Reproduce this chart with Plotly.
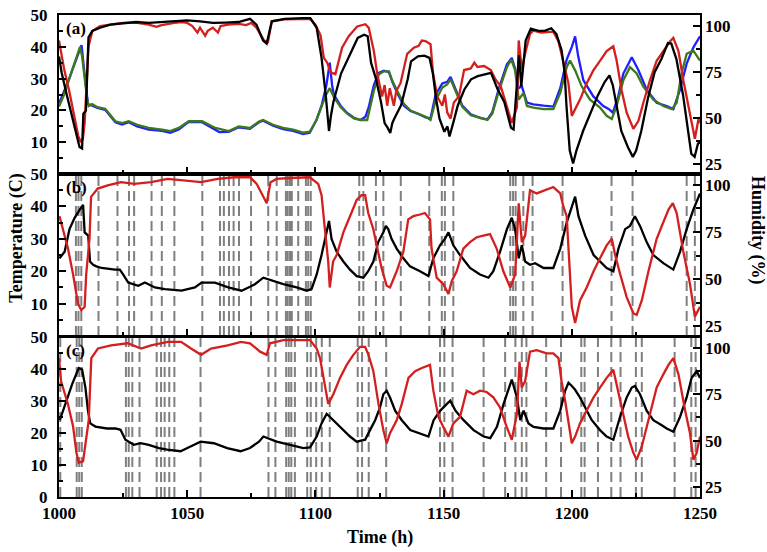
import plotly.graph_objects as go

# ---------------- data (time h, value) ----------------
# Panel (a): humidity series (right axis, %) and temperature series (left axis, C)
a_black_hum = [(1000, 83.4), (1001, 74.8), (1003, 62.8), (1006, 45.5), (1008, 34.3), (1009, 33.5), (1009.5, 52.4),
               (1010.5, 54.1), (1011, 71.4), (1011.5, 93.7), (1013, 97.2), (1016, 98.9), (1020, 100.6), (1025, 101.5),
               (1030, 102), (1035, 101.5), (1040, 102), (1045, 102.7), (1050, 102.9), (1055, 102.4), (1060, 101.5),
               (1065, 101.7), (1070, 102), (1074.5, 103.7), (1077, 100.6), (1079.6, 92), (1081, 90.3), (1083, 102.4),
               (1088, 103.7), (1095, 104.1), (1098, 104.1), (1100.5, 98.9), (1102.4, 82.6), (1104, 62.8), (1105.3, 43),
               (1106, 50.7), (1107, 58.6), (1110, 74.1), (1114, 86.3), (1116.5, 93.4), (1119, 95.1), (1120.4, 94.3),
               (1121.7, 80), (1123.6, 71.4), (1125.6, 58.6), (1127, 47.3), (1128.2, 44.7), (1129.2, 41.9), (1130, 47.3),
               (1130.8, 49.8), (1133.4, 56.9), (1136, 71), (1137.3, 80.7), (1140, 83.4), (1142.5, 83.8), (1144.5, 82.6),
               (1145.8, 74.3), (1147.1, 60.2), (1148.4, 49.7), (1150.3, 42.6), (1151.5, 45.5), (1152.3, 40),
               (1154.2, 49.7), (1155.5, 56.7), (1158.1, 65.5), (1160.7, 71), (1163.3, 72.7), (1165.9, 73.6),
               (1168.5, 74.5), (1171.1, 65.5), (1173.7, 58.6), (1176.3, 44.7), (1177.3, 43.8), (1179.4, 84),
               (1180.3, 67.2), (1182, 92), (1184, 98.4), (1187, 97.2), (1189.4, 97.2), (1192, 98.6), (1194, 95.5),
               (1196, 86.9), (1197.2, 74.8), (1197.9, 57.1), (1199.2, 32.4), (1200.5, 25.4), (1201.8, 32.4),
               (1204.4, 43), (1207.6, 53.6), (1210.2, 62.4), (1212.8, 69.5), (1214.7, 73.1), (1216, 67.7),
               (1217.3, 57.1), (1219.3, 43), (1221.9, 34.2), (1223.8, 29), (1225.1, 32.4), (1227.1, 43),
               (1229.7, 60.7), (1232.3, 74.8), (1234.9, 81.9), (1237.5, 90.6), (1238.8, 90.3), (1240.8, 81.9),
               (1243.4, 62.4), (1245.3, 44.8), (1246.6, 30.7), (1247.9, 29), (1249.2, 36.1), (1250, 36.9)]

a_red_hum = [(1000, 92), (1002, 76.5), (1004, 64.5), (1006, 50.7), (1007.5, 40.4), (1008.5, 36.9), (1009.3, 38.6),
             (1010, 47.3), (1010.5, 62.8), (1011.5, 88.6), (1013, 97.2), (1016, 99.8), (1020, 100.6), (1025, 101.5),
             (1030, 101.7), (1035, 100.6), (1038, 99.4), (1040, 100.3), (1045, 101.5), (1048, 102), (1050, 101.5),
             (1052, 99.8), (1054, 96.3), (1055, 98.9), (1057, 94.6), (1058, 97.2), (1060, 98.9), (1062, 96.3),
             (1063, 99.8), (1066, 100.6), (1070, 101), (1073, 100.3), (1075, 101.5), (1077, 98.9), (1078.5, 95.5),
             (1080, 92), (1081.5, 91.2), (1083, 102.4), (1088, 103.4), (1095, 103.7), (1098, 103.7), (1100, 100.6),
             (1102, 94.8), (1103.3, 82.6), (1104.6, 80), (1105.9, 74.8), (1107.8, 73.8), (1110.4, 88.1),
             (1113, 94.3), (1116.3, 99.6), (1119.5, 100.8), (1120.8, 98.9), (1122.8, 86.3), (1124.1, 74.1),
             (1126, 61.7), (1127, 67.9), (1128, 56.7), (1129, 66.2), (1130.6, 56.7), (1131.5, 64.5), (1133.2, 68.9),
             (1135.8, 84.8), (1138.4, 88.1), (1140.3, 89.1), (1141.5, 92), (1142.9, 91.7), (1144.9, 90),
             (1145.9, 74.1), (1147.5, 61.7), (1149.5, 56.7), (1150.5, 62.8), (1151.4, 53.1), (1152.7, 49.7),
             (1154, 58.4), (1156, 61.9), (1158, 76), (1160.6, 76.9), (1162, 80), (1163.2, 77.7), (1165.8, 78.2),
             (1168.4, 76), (1170.3, 70.8), (1172.3, 67.2), (1174.7, 56.2), (1176.6, 47.4), (1178.6, 55.9),
             (1179.3, 92), (1180.5, 76.2), (1181.8, 85), (1183.7, 95.5), (1185, 97.4), (1188, 96.3), (1192.8, 96.8),
             (1194.8, 91.5), (1196.7, 81), (1198.7, 68.8), (1200, 51.2), (1201.3, 54.7), (1203.2, 60),
             (1205.8, 68.8), (1208.4, 75.8), (1211, 81), (1213.6, 86.3), (1216.2, 88.9), (1217.5, 81),
             (1219.4, 65.2), (1221.4, 52.9), (1224, 44.2), (1226, 48.5), (1227.9, 58.3), (1230.5, 70.5),
             (1233.1, 81), (1235.7, 86.3), (1238.3, 91.5), (1239.6, 93.4), (1241.6, 86.3), (1243.5, 70.5),
             (1246.1, 52.9), (1248, 38.8), (1249.4, 49.5), (1250, 47.3)]

a_green_temp = [(1000, 21.2), (1002, 25), (1004, 30), (1006, 35), (1008.2, 40), (1009, 37), (1009.7, 31.6),
                (1011, 23.4), (1011.6, 21.4), (1012.9, 22), (1015, 21), (1018, 20.5), (1020, 18.6), (1022, 16.6),
                (1024.6, 16), (1027.2, 16.6), (1030.5, 15.5), (1035, 14.5), (1040.2, 14), (1043.4, 13.5),
                (1046.7, 14.5), (1050.6, 16.6), (1055.8, 16.6), (1061, 14.5), (1066.2, 13.5), (1070.1, 15),
                (1074.5, 14.5), (1078, 16.5), (1079.6, 17), (1083.5, 15.5), (1087.4, 14.5), (1091.3, 14),
                (1095.2, 13), (1097.8, 13.3), (1100.4, 17), (1102.4, 21.1), (1104.3, 25.2), (1105.6, 27),
                (1107.2, 24.2), (1109.8, 21.1), (1112.4, 19), (1115, 17.5), (1117.6, 17), (1120.2, 17),
                (1122.8, 26.2), (1124.7, 31.3), (1126.7, 32.3), (1128.7, 32.3), (1130, 29.3), (1131.9, 26.2),
                (1134.5, 22.1), (1137.1, 20), (1140.4, 19), (1143, 18), (1144.9, 17), (1146.9, 23.1),
                (1149.5, 27.2), (1151.4, 28.2), (1152.7, 29.8), (1154.7, 26.2), (1157.3, 21.1), (1160.6, 18.5),
                (1164.5, 17.5), (1167.1, 17), (1169, 19), (1171.6, 26.2), (1174.7, 33.6), (1176.4, 36),
                (1177.9, 32.6), (1179.3, 23.4), (1181.2, 25.5), (1182.5, 21.4), (1185, 20.9), (1189, 20.4),
                (1192.8, 20.4), (1195.5, 25.5), (1198, 33.6), (1199.3, 35.7), (1201.3, 32.6), (1203.9, 27.5),
                (1207.1, 23.4), (1211, 20.9), (1213.6, 18.3), (1215.6, 17.3), (1217.5, 21.4), (1220.1, 29.5),
                (1222.7, 33.6), (1225.3, 31.6), (1227.9, 27.5), (1231.8, 23.4), (1235.7, 21.4), (1239, 20.4),
                (1240.9, 22.4), (1242.8, 31.6), (1244.8, 37.8), (1247.4, 38.8), (1250, 35.7)]

a_blue_temp = [(1000, 22.2), (1002, 26), (1004, 30), (1006, 34.5), (1008.8, 40.5), (1009.5, 35), (1010.3, 29),
               (1011.3, 22), (1013, 21.5), (1015, 20.8), (1018, 20.2), (1020, 18.3), (1022, 16.3), (1024.6, 15.6),
               (1027.2, 16.3), (1030.5, 15), (1035, 14), (1040.2, 13.6), (1043.4, 13), (1046.7, 14),
               (1050.6, 16.4), (1055.8, 16.3), (1061, 14), (1062.5, 13.2), (1066.2, 13.3), (1070.1, 14.7),
               (1074.5, 14.2), (1078, 16.3), (1079.6, 16.8), (1083.5, 15.2), (1087.4, 14.1), (1091.3, 13.6),
               (1095.2, 12.6), (1097.8, 13), (1100.4, 17), (1102.4, 21.5), (1104.3, 28), (1105.6, 35),
               (1106.5, 28), (1107.2, 25), (1109.8, 21.5), (1112.4, 19.2), (1115, 17.7), (1117.6, 17),
               (1119.5, 18), (1120.8, 21), (1122.8, 28), (1124.7, 31.8), (1126.7, 32.5), (1128.7, 32),
               (1130, 29), (1131.9, 25.5), (1134.5, 21.5), (1137.1, 19.8), (1140.4, 18.8), (1143, 17.8),
               (1144.9, 17.5), (1146.9, 25), (1149.5, 28.5), (1151.4, 29), (1152.7, 30.5), (1154.7, 26.8),
               (1157.3, 21.5), (1160.6, 18.8), (1164.5, 17.6), (1167.1, 17.2), (1169, 19.5), (1171.6, 27),
               (1174.7, 34.5), (1176.6, 36.5), (1177.9, 33), (1179.3, 27), (1180.5, 27.6), (1182.5, 22.5),
               (1185, 21.9), (1189, 21.5), (1192.8, 21.2), (1195.5, 27), (1198, 36), (1200, 40), (1201.3, 43.3),
               (1202.5, 37), (1204.5, 29.5), (1208.4, 24.4), (1212.3, 21.4), (1214.5, 20.4), (1216, 19.3),
               (1218, 24), (1220.1, 31.6), (1223.4, 36.7), (1226, 32.6), (1229.2, 26.5), (1233.1, 22.4),
               (1237, 21.4), (1239.6, 20.4), (1242.2, 26.5), (1244.8, 34.7), (1247.4, 39.8), (1250, 43.3)]

# Panel (b)
b_temp = [(1000.2, 24), (1002.2, 26), (1004.1, 33), (1006.1, 36.5), (1008.1, 39), (1009.4, 40.5), (1010, 32),
          (1011.4, 31), (1012.1, 23), (1013.3, 22), (1014.6, 21.5), (1016.6, 21), (1021.8, 20.5), (1023.7, 20.5),
          (1025, 19), (1027, 16.5), (1030.9, 15.5), (1033.5, 16.5), (1037.4, 15), (1041.3, 14.5), (1047.8, 14),
          (1053, 15), (1055.6, 16.5), (1060.8, 16.5), (1066, 15), (1071.2, 14), (1074.5, 15.2), (1076.4, 16),
          (1079.7, 18), (1083.6, 17), (1087.5, 16), (1092.7, 15), (1096.6, 14), (1098.5, 14.5), (1100.5, 19),
          (1102.4, 25), (1103.7, 30), (1105.3, 35.5), (1106.3, 30), (1108.3, 26), (1110.9, 23), (1113.5, 20.5),
          (1116.1, 18.5), (1118.7, 18), (1120.6, 20), (1122.6, 23), (1124.5, 29), (1126.5, 32), (1127.5, 34),
          (1128.4, 33), (1129.7, 30), (1131.7, 27), (1134.3, 24), (1136.9, 21.5), (1140.8, 20), (1144.1, 18.5),
          (1146, 24), (1148.6, 28), (1150.5, 30), (1151.9, 32), (1153.8, 28), (1156.4, 25), (1160.3, 21),
          (1164.2, 19), (1167.5, 18), (1169.4, 20), (1172, 26), (1174.7, 33), (1176.6, 36.5), (1177.9, 33),
          (1179.3, 24), (1180.5, 28), (1181.8, 23), (1183.7, 22), (1185.7, 22.5), (1189, 21), (1192.8, 21),
          (1195.5, 27), (1198, 35), (1200, 40), (1201.3, 43), (1202.6, 37), (1205.2, 31), (1208.5, 25),
          (1211, 23), (1213.6, 21), (1216.2, 20), (1218.2, 27), (1220.8, 33), (1222.7, 34), (1224.6, 37),
          (1226.6, 34), (1229.2, 29), (1231.8, 25), (1235.7, 22.5), (1239.6, 20.5), (1242.2, 26),
          (1244.8, 33), (1247.4, 39), (1250, 44)]

b_hum = [(1000.2, 83.4), (1001.5, 76.5), (1003.5, 66.2), (1005.5, 52.4), (1007.4, 36.9), (1008.7, 33.5),
         (1010, 35.2), (1010.6, 52.4), (1011.9, 71.4), (1012.5, 93.7), (1015.1, 98.1), (1019, 99.8),
         (1024.2, 101.5), (1029.4, 100.6), (1035.9, 101.5), (1042.4, 103.2), (1048.9, 102.4), (1055.4, 101.5),
         (1061.9, 103.2), (1068.4, 104.1), (1074.5, 104.1), (1077.1, 100.6), (1079.7, 93.7), (1081, 90.3),
         (1082.5, 101.5), (1084.9, 103.2), (1090.1, 103.7), (1097.8, 104.1), (1101.1, 100.6), (1102.4, 94.6),
         (1103.7, 76.5), (1105, 59.3), (1105.6, 45.5), (1106.9, 59.3), (1108.3, 62.8), (1110.9, 74.8),
         (1113.5, 83.4), (1116.1, 92), (1118, 94.6), (1119.4, 94.6), (1120.6, 85.1), (1122.6, 76.5),
         (1123.9, 67.9), (1125.8, 55.9), (1127.8, 46.4), (1129.1, 45.5), (1131.7, 54.1), (1134.3, 64.5),
         (1136.2, 81.7), (1138.2, 83.4), (1140.8, 84.3), (1142.7, 85.1), (1144.7, 81.7), (1145.3, 66.2),
         (1147.3, 50.7), (1149.9, 47.3), (1151.9, 42.1), (1153.2, 49), (1155.1, 54.1), (1157.7, 66.2),
         (1160.3, 69.6), (1162.9, 72.2), (1165.5, 73.1), (1168.1, 73.9), (1170.7, 66.2), (1173.3, 54.1),
         (1176, 45.5), (1177.9, 52.4), (1179.3, 90.3), (1180.5, 69.6), (1181.8, 73.1), (1183.7, 97.2),
         (1186.3, 95.5), (1189.6, 97.2), (1192.8, 98.9), (1195.5, 95.5), (1196.7, 88.6), (1198, 83.4),
         (1199.1, 59.3), (1200, 35.2), (1201.3, 26.6), (1203.2, 38.6), (1205.8, 45.5), (1208.5, 54.1),
         (1211, 61), (1213.6, 67.9), (1215.6, 71.4), (1216.9, 62.8), (1218.9, 52.4), (1221.4, 40.4),
         (1224, 31.8), (1225.3, 30.9), (1227.3, 38.6), (1229.9, 54.1), (1233.1, 71.4), (1235.7, 80),
         (1237.7, 86.9), (1239.4, 90.3), (1240.9, 85.1), (1243.5, 64.5), (1246.1, 47.3), (1248, 30),
         (1249.4, 34.3), (1250, 35.2)]

# Panel (c)
c_temp = [(1000.3, 24), (1002.5, 29), (1005.1, 35.2), (1007.7, 40.3), (1009, 39.8), (1010.3, 34.2), (1011.3, 27),
          (1012.2, 23), (1014.2, 22), (1018.7, 21.4), (1022, 21.4), (1024, 21), (1025.9, 17.9), (1029.2, 16.3),
          (1031.8, 16.8), (1035, 16.3), (1039, 15.3), (1042.2, 14.8), (1047.4, 14.3), (1051.3, 15.8),
          (1055.2, 17.3), (1060.4, 16.8), (1065.6, 15.3), (1070.8, 14.3), (1074.5, 15.3), (1078, 17.3),
          (1079.7, 18.9), (1084.9, 17.3), (1090.1, 16.3), (1095.3, 15.3), (1097.9, 15.5), (1100.5, 18.9),
          (1102.4, 23), (1104.4, 26), (1105.7, 25), (1108.3, 23), (1110.9, 20.9), (1113.5, 18.9),
          (1116.1, 17.3), (1119.4, 17.9), (1121.3, 20.9), (1123.3, 24), (1125.2, 28), (1126.5, 32.1),
          (1127.8, 33.2), (1129.1, 31.1), (1131.1, 27), (1133.7, 24), (1137, 20.9), (1140.9, 19.9),
          (1144.1, 18.9), (1146.1, 24), (1148.7, 27), (1151.3, 29.1), (1152.6, 30.1), (1154.6, 27),
          (1157.8, 24), (1161.7, 20.9), (1165.6, 18.9), (1168.2, 18.4), (1170.8, 21.9), (1173.4, 29.1),
          (1175.4, 34.2), (1176.6, 36.7), (1178.6, 31.1), (1179.9, 24), (1181.2, 27), (1183.1, 23),
          (1185.1, 21.9), (1189, 21.4), (1192.8, 21.4), (1195.5, 27), (1197.4, 33.2), (1198.7, 35.7),
          (1200, 34.7), (1201.3, 33.5), (1203.2, 31.1), (1205.2, 28), (1207.8, 24), (1211, 20.9),
          (1213.6, 18.9), (1216.2, 17.9), (1218.8, 25), (1221.4, 31.1), (1223.4, 34.2), (1224.6, 34.7),
          (1226.6, 32.1), (1229.2, 27), (1231.8, 24), (1235.1, 22.4), (1237, 21.4), (1239.6, 20.4),
          (1242.2, 25), (1244.8, 31.1), (1246.7, 37.2), (1248.7, 39.3), (1250, 37.2)]

c_hum = [(1000, 94.4), (1000.8, 82), (1003.5, 69.6), (1005.5, 57.6), (1006.8, 43.5), (1007.7, 38.1), (1009.4, 39),
         (1010.7, 50.5), (1011.6, 61), (1012.6, 94.4), (1015.2, 99.6), (1020.3, 101.3), (1026.8, 102.4),
         (1032, 99.6), (1035.9, 101.3), (1042.4, 103.2), (1047.6, 103.2), (1051.5, 99.6), (1055.4, 96.2),
         (1059.3, 99.6), (1065.8, 101.3), (1071, 103.2), (1074.5, 102.4), (1078.4, 97.9), (1081, 96.2),
         (1082.3, 102.4), (1087.5, 104.1), (1097.9, 104.1), (1100.5, 99.6), (1101.8, 94.4), (1103.7, 78.6),
         (1105, 69.8), (1107, 75), (1109.6, 83.8), (1112.2, 90.8), (1114.8, 96.2), (1117.4, 100.5),
         (1119.4, 100.5), (1120.7, 96.2), (1122.6, 87.4), (1124.6, 69.8), (1126.5, 55.7), (1127.8, 48.6),
         (1129.1, 54), (1131.7, 61), (1133.7, 69.8), (1136.3, 83.8), (1138.9, 87.4), (1141.5, 89.1),
         (1144.7, 90.8), (1146, 76.9), (1148, 62.8), (1149.9, 57.4), (1151.9, 52.2), (1153.8, 59.3),
         (1156.4, 62.8), (1159, 76.9), (1161.6, 75), (1164.2, 76.9), (1166.8, 76.2), (1169.4, 73.3),
         (1172, 67.9), (1174.6, 57.4), (1176.6, 50.5), (1178.6, 64.5), (1179.6, 92.5), (1180.5, 78.6),
         (1181.8, 82), (1183.7, 97.9), (1186.3, 98.7), (1190.2, 97), (1192.8, 97), (1194.8, 94.4), (1196, 82),
         (1197.4, 71.5), (1198.7, 59.3), (1200, 48.6), (1201.3, 52.2), (1203.2, 59.3), (1205.8, 66.2),
         (1208.5, 73.3), (1211, 78.6), (1213.6, 83.8), (1216.2, 88.2), (1217.5, 80.3), (1219.4, 67.9),
         (1222, 52.2), (1224, 43.5), (1225.3, 39.8), (1227.3, 46.9), (1229.9, 61), (1233.1, 78.6),
         (1235.7, 85.7), (1237.7, 90.8), (1239.6, 94.4), (1241.6, 85.7), (1244.2, 66.2), (1246.1, 54),
         (1247.4, 39.8), (1248.7, 43.5), (1250, 52.2)]

# event times (dashed markers)
b_events = [1006.6, 1007.6, 1008.7, 1015.4, 1022.8, 1027.3, 1029.3, 1036.1, 1040.1, 1045.0, 1055.9, 1062.8,
            1064.3, 1066.3, 1068.1, 1070.2, 1074.9, 1081.6, 1084.9, 1088.5, 1089.2, 1090.1, 1090.8, 1093.3,
            1096.3, 1097.2, 1098.2, 1117.1, 1118.7, 1123.6, 1126.5, 1133.3, 1144.4, 1149.3, 1150.5, 1153.8,
            1176.0, 1177.1, 1178.1, 1181.1, 1184.7, 1196.4, 1215.5, 1223.7, 1244.8, 1248.0]
c_events = [1000.5, 1006.9, 1007.9, 1008.9, 1026.1, 1027.2, 1028.6, 1031.4, 1038.1, 1039.8, 1041.2, 1043.0,
            1045.0, 1055.2, 1081.7, 1084.4, 1088.6, 1089.6, 1090.6, 1092.0, 1096.8, 1098.2, 1100.3, 1102.5,
            1105.6, 1116.5, 1118.2, 1120.8, 1127.6, 1148.6, 1150.3, 1153.5, 1165.6, 1174.0, 1178.0, 1180.5,
            1182.3, 1190.0, 1195.8, 1203.7, 1205.0, 1210.2, 1215.4, 1219.0, 1225.0, 1227.3, 1240.1, 1246.6,
            1248.3]

x_ticks = [1000, 1050, 1100, 1150, 1200, 1250]
temp_ticks_top = [10, 20, 30, 40, 50]
temp_ticks_bottom = [0, 10, 20, 30, 40, 50]
hum_ticks = [25, 50, 75, 100]
panel_labels = ["(a)", "(b)", "(c)"]

# ---------------- styling ----------------
RED = "#d41f1f"
BLACK = "#000000"
BLUE = "#1f1fff"
GREEN = "#3d7a1c"
GRAY = "#7f7f7f"
FONT = "Liberation Serif"
LW = 2.3


def xy(pairs):
    return [p[0] for p in pairs], [p[1] for p in pairs]


fig = go.Figure()


def add(pairs, color, xa, ya):
    x, y = xy(pairs)
    fig.add_trace(go.Scatter(x=x, y=y, mode="lines", xaxis=xa, yaxis=ya,
                             line=dict(color=color, width=LW), showlegend=False, hoverinfo="skip"))


# panel a
add(a_blue_temp, BLUE, "x", "y")
add(a_green_temp, GREEN, "x", "y")
add(a_red_hum, RED, "x", "y2")
add(a_black_hum, BLACK, "x", "y2")
# panel b
add(b_temp, BLACK, "x2", "y3")
add(b_hum, RED, "x2", "y4")
# panel c
add(c_temp, BLACK, "x3", "y5")
add(c_hum, RED, "x3", "y6")

shapes = []
for t in b_events:
    shapes.append(dict(type="line", xref="x2", yref="y3 domain", x0=t, x1=t, y0=0, y1=1, layer="below",
                       line=dict(color=GRAY, width=2, dash="10px,5px")))
for t in c_events:
    shapes.append(dict(type="line", xref="x3", yref="y5 domain", x0=t, x1=t, y0=0, y1=1, layer="below",
                       line=dict(color=GRAY, width=2, dash="10px,5px")))

tickfont = dict(family=FONT, size=17, color="black", weight="bold")


def xaxis(anchor, labels):
    return dict(domain=[0, 1], anchor=anchor, range=[1000, 1250], tickmode="array", tickvals=x_ticks,
                showticklabels=labels, ticks="inside", ticklen=7, tickwidth=2, tickcolor="black",
                minor=dict(ticks="inside", ticklen=4, tickwidth=2, tickcolor="black", dtick=25, tick0=1000),
                showline=True, mirror=True, linewidth=2, linecolor="black", showgrid=False, zeroline=False,
                tickfont=tickfont)


def yleft(domain, anchor, ticks):
    return dict(domain=domain, anchor=anchor, range=[0, 50], tickmode="array", tickvals=ticks,
                ticks="inside", ticklen=7, tickwidth=2, tickcolor="black", ticklabelstandoff=6,
                minor=dict(ticks="inside", ticklen=4, tickwidth=2, tickcolor="black", dtick=5, tick0=0),
                showline=True, mirror=True, linewidth=2, linecolor="black", showgrid=False, zeroline=False,
                tickfont=tickfont)


def yright(over, anchor):
    return dict(overlaying=over, anchor=anchor, side="right", range=[19.7, 105.8], tickmode="array",
                tickvals=hum_ticks, ticks="inside", ticklen=7, tickwidth=2, tickcolor="black",
                ticklabelstandoff=4,
                minor=dict(ticks="inside", ticklen=4, tickwidth=2, tickcolor="black", dtick=12.5, tick0=0),
                showline=False, showgrid=False, zeroline=False, tickfont=tickfont)


annotations = []
for lab, xr, yr in zip(panel_labels, ["x domain", "x2 domain", "x3 domain"], ["y domain", "y3 domain", "y5 domain"]):
    annotations.append(dict(text=lab, xref=xr, yref=yr, x=0.008, y=0.985, xanchor="left", yanchor="top",
                            showarrow=False, font=dict(family=FONT, size=17, color="black", weight="bold")))
annotations.append(dict(text="Temperature (C)", xref="paper", yref="paper", x=-0.0655, y=0.536,
                        textangle=-90, showarrow=False, xanchor="center", yanchor="middle",
                        font=dict(family=FONT, size=18, color="black", weight="bold")))
annotations.append(dict(text="Humidity (%)", xref="paper", yref="paper", x=1.089, y=0.554,
                        textangle=90, showarrow=False, xanchor="center", yanchor="middle",
                        font=dict(family=FONT, size=18, color="black", weight="bold")))
annotations.append(dict(text="Time (h)", xref="paper", yref="paper", x=0.5, y=-0.0835,
                        showarrow=False, xanchor="center", yanchor="middle",
                        font=dict(family=FONT, size=18, color="black", weight="bold")))

fig.update_layout(
    width=767, height=552,
    margin=dict(l=59, r=67, t=6, b=55),
    paper_bgcolor="white", plot_bgcolor="white",
    font=dict(family=FONT, size=17, color="black"),
    xaxis=xaxis("y", False),
    xaxis2=xaxis("y3", False),
    xaxis3=xaxis("y5", True),
    yaxis=yleft([0.670, 1.0], "x", temp_ticks_top),
    yaxis2=yright("y", "x"),
    yaxis3=yleft([0.334, 0.670], "x2", temp_ticks_top),
    yaxis4=yright("y3", "x2"),
    yaxis5=yleft([0.0, 0.332], "x3", temp_ticks_bottom),
    yaxis6=yright("y5", "x3"),
    shapes=shapes,
    annotations=annotations,
    showlegend=False,
)

fig.write_html("out.html",
               config={"displayModeBar": False},
               post_script="document.body.style.margin='0';document.body.style.padding='0';"
                           "document.body.style.overflow='hidden';")
